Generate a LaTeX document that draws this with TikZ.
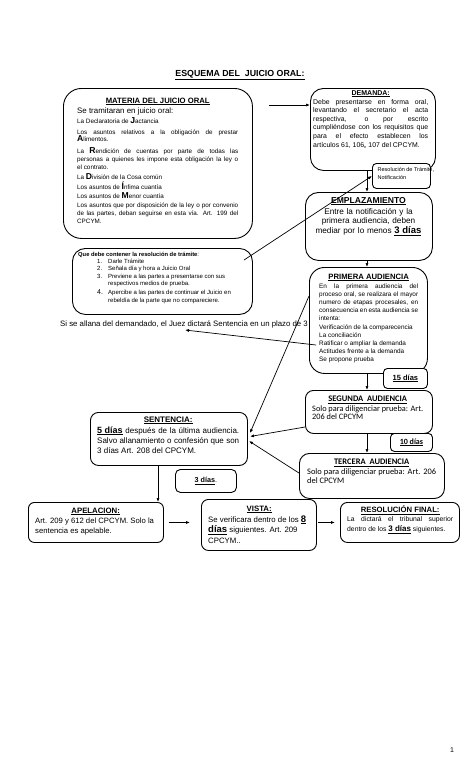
\documentclass[tikz,border=0pt]{standalone}
\usepackage{fontspec}
\setmainfont{Liberation Sans}
\newfontfamily\calib{Carlito}
\usetikzlibrary{arrows.meta,calc}
\newcommand\fsz[2]{\fontsize{#1}{#2}\selectfont}
\newcommand\jl[1]{\makebox[\hsize][s]{#1}}
\newcommand\bgl[1]{{\fontsize{8.6}{7}\selectfont\bfseries #1}}
\begin{document}
\begin{tikzpicture}[x=1pt,y=-1pt,
  rbox/.style={draw=black, line width=0.9pt, fill=white, rounded corners=#1, inner sep=0pt, anchor=north west},
  rbox/.default=8pt,
  txt/.style={inner sep=0pt, anchor=north west, align=flush left},
  arr/.style={line width=0.7pt, -{Latex[length=4pt,width=3pt]}}]
\fill[white] (0,0) rectangle (474,780);
\useasboundingbox (0,0) rectangle (474,780);

\node[inner sep=0pt, anchor=base, font=\fsz{8.8}{10}\bfseries] (title) at (240,76) {\underline{ESQUEMA DEL\ \ JUICIO ORAL:}};

% text under the first hearing box
\node[inner sep=0pt, anchor=base west, font=\fsz{7.8}{9}] (allana) at (60,326) {Si se allana del demandado, el Juez dictará Sentencia en un plazo de 3};

% MATERIA
\node[rbox=18pt, minimum width=189pt, minimum height=150pt] (materia) at (63,88) {};
\node[txt, text width=161pt, font=\fsz{6.3}{7.8}] (materiaT) at (77,97.5) {%
\makebox[\hsize][c]{\fsz{7.7}{7.8}\bfseries\underline{MATERIA DEL JUICIO ORAL}}\\[2.2pt]
{\fsz{7.9}{7.8}Se tramitaran en juicio oral:}\\[2.2pt]
La Declaratoria de \bgl{J}actancia\\[3.2pt]
\jl{Los asuntos relativos a la obligación de prestar}\\
\bgl{A}limentos.\\[4.2pt]
\jl{La \bgl{R}endición de cuentas por parte de todas las}\\
\jl{personas a quienes les impone esta obligación la ley o}\\
el contrato.\\[2.7pt]
La \bgl{D}ivisión de la Cosa común\\[1.7pt]
Los asuntos de \bgl{Í}nfima cuantía\\[1.7pt]
Los asuntos de \bgl{M}enor cuantía\\[1.2pt]
\jl{Los asuntos que por disposición de la ley o por convenio}\\
\jl{de las partes, deban seguirse en esta vía. Art. 199 del}\\
CPCYM.};

% QUE DEBE CONTENER
\node[rbox=13pt, minimum width=180pt, minimum height=66pt] (qdebe) at (72,248) {};
\node[txt, text width=176pt, font=\fsz{6}{7.3}] (qdebeT) at (78,251.7) {%
{\bfseries\fsz{5.8}{7.3}Que debe contener la resolución de trámite}:\\
\hspace*{19pt}\makebox[11pt][l]{1.}Darle Trámite\\
\hspace*{19pt}\makebox[11pt][l]{2.}Señala día y hora a Juicio Oral\\
\hspace*{19pt}\makebox[11pt][l]{3.}Previene a las partes a presentarse con sus\\
\hspace*{30pt}respectivos medios de prueba.\\[1.7pt]
\hspace*{19pt}\makebox[11pt][l]{\fsz{7}{7.3}4.}Apercibe a las partes de continuar el Juicio en\\[0.8pt]
\hspace*{30pt}rebeldía de la parte que no compareciere.};

% DEMANDA
\node[rbox=13pt, minimum width=125pt, minimum height=82pt] (demanda) at (310,88) {};
\node[txt, text width=115pt, font=\fsz{6.9}{8.6}] (demandaT) at (313,90) {%
\makebox[\hsize][c]{\fsz{7}{8.6}\bfseries\underline{DEMANDA:}}\\[0.4pt]
\jl{Debe presentarse en forma oral,}\\
\jl{levantando el secretario el acta}\\
\jl{respectiva, o por escrito}\\
\jl{cumpliéndose con los requisitos que}\\
\jl{para el efecto establecen los}\\
artículos 61, 106,, 107 del CPCYM.};

% RESOLUCION DE TRAMITE
\node[rbox=4pt, minimum width=58pt, minimum height=25pt] (resol) at (372,163) {};
\node[txt, font=\fsz{5.5}{8.5}] (resolT) at (377.5,166.9) {Resolución de Trámite,\\Notificación};

% EMPLAZAMIENTO
\node[rbox=13pt, minimum width=127pt, minimum height=68pt] (emplaz) at (305,192) {};
\node[inner sep=0pt, anchor=north, text width=124pt, align=center, font=\fsz{8.2}{9.8}] (emplazT) at (368.5,196.8) {%
{\fsz{8.6}{9.8}\bfseries\underline{EMPLAZAMIENTO}}\\[1.2pt]
Entre la notificación y la\\
primera audiencia, deben\\
mediar por lo menos {\fsz{9.5}{9.8}\bfseries\underline{3 días}}};

% PRIMERA AUDIENCIA
\node[rbox=15pt, minimum width=118pt, minimum height=106pt] (primera) at (309,267) {};
\node[txt, text width=99pt, font=\fsz{6.4}{8.2}] (primeraT) at (319,273.5) {%
\makebox[\hsize][c]{\fsz{7.7}{8.2}\bfseries\underline{PRIMERA AUDIENCIA}}\\[0.8pt]
\jl{En la primera audiencia del}\\
\jl{proceso oral, se realizara el mayor}\\
\jl{numero de etapas procesales, en}\\
\jl{consecuencia en esta audiencia se}\\
intenta:\\
Verificación de la comparecencia\\
La conciliación\\
Ratificar o ampliar la demanda\\
Actitudes frente a la demanda\\
Se propone prueba};

\node[rbox=4pt, minimum width=44pt, minimum height=20pt] (d15) at (383,368) {};
\node[inner sep=0pt, font=\fsz{7.5}{8}\bfseries] (d15T) at (d15.center) {\underline{15 días}};

% SEGUNDA AUDIENCIA
\node[rbox=8pt, minimum width=127pt, minimum height=43pt] (segunda) at (305,390) {};
\node[txt, text width=111pt, font=\calib\fsz{8.3}{8.6}] (segundaT) at (312,395.5) {%
\makebox[\hsize][c]{\fsz{8.5}{8.6}\bfseries\underline{SEGUNDA\ \ AUDIENCIA}}\\[1.4pt]
\jl{Solo para diligenciar prueba: Art.}\\
206 del CPCYM};

\node[rbox=4pt, minimum width=42pt, minimum height=18pt] (d10) at (390,433) {};
\node[inner sep=0pt, font=\calib\fsz{8}{8}\bfseries] (d10T) at (d10.center) {\underline{10 días}};

% TERCERA AUDIENCIA
\node[rbox=10pt, minimum width=145pt, minimum height=45pt] (tercera) at (299,453) {};
\node[txt, text width=129pt, font=\calib\fsz{8.4}{9}] (terceraT) at (307,458.5) {%
\makebox[\hsize][c]{\fsz{8.5}{9}\bfseries\underline{TERCERA\ \ AUDIENCIA}}\\[1pt]
\jl{Solo para diligenciar prueba: Art. 206}\\
del CPCYM};

% SENTENCIA
\node[rbox=8pt, minimum width=157pt, minimum height=53pt] (sent) at (90,412) {};
\node[txt, text width=142pt, font=\fsz{8}{10}] (sentT) at (97,416.3) {%
\makebox[\hsize][c]{\bfseries\underline{SENTENCIA:}}\\[1pt]
\jl{{\fsz{9}{10}\bfseries\underline{5 días}} después de la última audiencia.}\\
\jl{Salvo allanamiento o confesión que son}\\
3 días Art. 208 del CPCYM.};

\node[rbox=5pt, minimum width=61pt, minimum height=23pt] (d3) at (175,469) {};
\node[inner sep=0pt, font=\fsz{7.2}{8}] (d3T) at (d3.center) {{\bfseries\underline{3 días}}.};

% APELACION
\node[rbox=6pt, minimum width=135pt, minimum height=40pt] (apel) at (28,502) {};
\node[txt, text width=125pt, font=\fsz{7.7}{10}] (apelT) at (35,507.4) {%
\makebox[121pt][c]{\fsz{7.8}{10}\bfseries\underline{APELACION:}}\\
Art. 209 y 612 del CPCYM. Solo la\\
sentencia es apelable.};

% VISTA
\node[rbox=7pt, minimum width=115pt, minimum height=51pt] (vista) at (201,499) {};
\node[txt, text width=106pt, font=\fsz{7.8}{10.5}] (vistaT) at (208,505.4) {%
\makebox[102pt][c]{\bfseries\underline{VISTA:}}\\[0.5pt]
Se verificara dentro de los {\fsz{9.5}{10.5}\bfseries\underline{8}}\\
{\fsz{9.5}{10.5}\bfseries\underline{días}} siguientes. Art. 209\\
CPCYM..};

% RESOLUCION FINAL
\node[rbox=7pt, minimum width=119pt, minimum height=40pt] (resf) at (340,502) {};
\node[txt, text width=106pt, font=\fsz{6.8}{9.5}] (resfT) at (347,505.8) {%
\makebox[\hsize][c]{\fsz{7.7}{9.5}\bfseries\underline{RESOLUCIÓN FINAL:}}\\[-0.5pt]
\jl{La dictará el tribunal superior}\\
dentro de los {\fsz{8}{9.5}\bfseries\underline{3 días}} siguientes.};

\node[inner sep=0pt, anchor=base, font=\fsz{7}{8}] (pnum) at (452,752) {1};

% connectors
\coordinate (vx) at (367,0);
\coordinate (sx) at (158,0);
\coordinate (q1) at (244,260);
\coordinate (p1) at (316,345);
\coordinate (al1) at (185,330);
\coordinate (s1) at (250,433);
\coordinate (s2) at (250,436.5);
\coordinate (s3) at (249,441);

\draw[arr, shorten <=16pt] (materia.east |- 0,105) -- (demanda.west |- 0,105);
\draw[arr] (vx |- demanda.south) -- (vx |- emplaz.north);
\draw[arr] (vx |- emplaz.south) -- (vx |- primera.north);
\draw[arr] (vx |- primera.south) -- (vx |- segunda.north);
\draw[arr] (vx |- segunda.south) -- (vx |- tercera.north);
\draw[arr] (q1) -- (resol.west);
\draw[arr] (p1) -- (al1);
\draw[arr] (primera.west |- 0,296) -- (s1);
\draw[arr] (segunda.west |- 0,427) -- (s2);
\draw[arr] (tercera.west |- 0,473) -- (s3);
\draw[arr] (sx |- sent.south) -- (sx |- apel.north);
\draw[arr, shorten <=5pt, shorten >=11pt] (apel.east) -- (apel.east -| vista.west);
\draw[arr, shorten <=1pt, shorten >=5pt] (vista.east |- apel.east) -- (apel.east -| resf.west);
\end{tikzpicture}
\end{document}
